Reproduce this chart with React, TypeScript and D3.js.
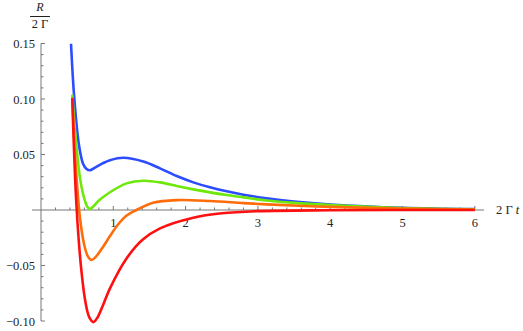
import React from 'react'
import * as d3 from 'd3'

// values: [2Γt, R/2Γ]
const blueSeries: [number, number][] = [
  [0.415, 0.15], [0.46, 0.101], [0.525, 0.0585], [0.58, 0.042], [0.63, 0.037],
  [0.678, 0.0358], [0.74, 0.038], [0.85, 0.042], [0.954, 0.0449], [1.14, 0.0471],
  [1.415, 0.0437], [1.646, 0.0375], [1.877, 0.0306], [2.107, 0.0249], [2.337, 0.0204],
  [2.568, 0.0168], [2.8, 0.0138], [3.12, 0.0105], [3.5, 0.0076], [4, 0.005],
  [5, 0.002], [6, 0.0008],
]
const greenSeries: [number, number][] = [
  [0.433, 0.104], [0.47, 0.072], [0.54, 0.0285], [0.6, 0.01], [0.64, 0.003],
  [0.678, 0.001], [0.72, 0.003], [0.8, 0.0085], [0.954, 0.016], [1.185, 0.024],
  [1.415, 0.0264], [1.646, 0.0249], [1.877, 0.0216], [2.107, 0.0186], [2.337, 0.0159],
  [2.568, 0.0135], [2.8, 0.0114], [3.12, 0.0086], [3.5, 0.0064], [4, 0.0045],
  [5, 0.0018], [6, 0.0007],
]
const orangeSeries: [number, number][] = [
  [0.433, 0.101], [0.48, 0.04], [0.54, -0.0075], [0.6, -0.032], [0.65, -0.042],
  [0.70, -0.045], [0.76, -0.042], [0.85, -0.034], [0.954, -0.0235], [1.06, -0.0135],
  [1.185, -0.005], [1.32, 0.0], [1.55, 0.0066], [1.877, 0.0089], [2.337, 0.0081],
  [2.8, 0.0062], [3.12, 0.0051], [4, 0.0028], [5, 0.0013], [6, 0.0005],
]
const redSeries: [number, number][] = [
  [0.433, 0.101], [0.49, 0.0045], [0.56, -0.0556], [0.62, -0.085], [0.67, -0.097],
  [0.724, -0.101], [0.78, -0.097], [0.85, -0.087], [0.954, -0.0706], [1.185, -0.0435],
  [1.4, -0.027], [1.646, -0.0165], [2.107, -0.0069], [2.5, -0.003], [3, -0.001],
  [4, -0.0002], [5, 0], [6, 0],
]

const series = [
  { name: 'blue', color: '#2b4cff', data: blueSeries },
  { name: 'green', color: '#6ee80a', data: greenSeries },
  { name: 'orange', color: '#ff6c0a', data: orangeSeries },
  { name: 'red', color: '#ff1010', data: redSeries },
]

const xTicks = [1, 2, 3, 4, 5, 6]
const yTicks = [0.15, 0.10, 0.05, -0.05, -0.10]
const yTickLabels = ['0.15', '0.10', '0.05', '\u22120.05', '\u22120.10']

const width = 523
const height = 331

export default function App() {
  const x = d3.scaleLinear().domain([0, 6]).range([41, 474.8])
  const y = d3.scaleLinear().domain([-0.1, 0.15]).range([321, 43.5])

  const line = d3.line<[number, number]>()
    .x(d => x(d[0]))
    .y(d => y(d[1]))
    .curve(d3.curveCatmullRom.alpha(0.5))

  const xMinor = d3.range(1, 31).map(i => i * 0.2).filter(v => v <= 6.01)
  const yMinor = d3.range(-10, 16).map(i => i * 0.01)

  const axisColor = '#777'
  const fs = 12.5
  const textStyle = {
    fontFamily: "'Liberation Serif', 'Times New Roman', Times, 'Nimbus Roman', FreeSerif, 'Noto Serif', 'DejaVu Serif', serif",
  }

  return (
    <svg width={width} height={height} style={{ position: 'absolute', left: 0, top: 0, background: '#fff' }}>
      <defs>
        <clipPath id="plot-area">
          <rect x={x(0)} y={y(0.15)} width={x(6.2) - x(0)} height={y(-0.106) - y(0.15)} />
        </clipPath>
      </defs>

      {/* axes */}
      <line x1={32} x2={484} y1={y(0)} y2={y(0)} stroke={axisColor} strokeWidth={1} />
      <line x1={x(0)} x2={x(0)} y1={y(0.15)} y2={y(-0.1)} stroke={axisColor} strokeWidth={1} />

      {xMinor.map((v, i) => {
        const major = Math.abs(v - Math.round(v)) < 1e-6
        return <line key={'xt' + i} x1={x(v)} x2={x(v)} y1={y(0)} y2={y(0) - (major ? 4 : 2.5)}
          stroke={axisColor} strokeWidth={1} />
      })}
      {yMinor.map((v, i) => {
        const major = Math.abs(v * 20 - Math.round(v * 20)) < 1e-6
        if (Math.abs(v) < 1e-9) return null
        return <line key={'yt' + i} x1={x(0)} x2={x(0) + (major ? 4 : 2.5)} y1={y(v)} y2={y(v)}
          stroke={axisColor} strokeWidth={1} />
      })}

      {xTicks.map(v => (
        <text key={'xl' + v} x={x(v)} y={y(0) + 17} textAnchor="middle" fontSize={fs} fill="#222" style={textStyle}>{v}</text>
      ))}
      {yTicks.map((v, i) => (
        <text key={'yl' + v} x={35} y={y(v) + 4.5} textAnchor="end" fontSize={fs} fill="#222" style={textStyle}>{yTickLabels[i]}</text>
      ))}

      {/* curves */}
      <g clipPath="url(#plot-area)" fill="none" strokeWidth={2.6} strokeLinejoin="round">
        {series.map(s => (
          <path key={s.name} d={line(s.data) ?? ''} stroke={s.color} />
        ))}
      </g>

      {/* axis labels */}
      <text x={496} y={y(0) + 4} fontSize={fs} fill="#222" style={textStyle}>2 Γ <tspan fontStyle="italic">t</tspan></text>
      <text x={40} y={11} textAnchor="middle" fontSize={12} fontStyle="italic" fill="#222" style={textStyle}>R</text>
      <line x1={30} x2={50} y1={16.5} y2={16.5} stroke="#222" strokeWidth={1} />
      <text x={40} y={28} textAnchor="middle" fontSize={fs} fill="#222" style={textStyle}>2 Γ</text>
    </svg>
  )
}
